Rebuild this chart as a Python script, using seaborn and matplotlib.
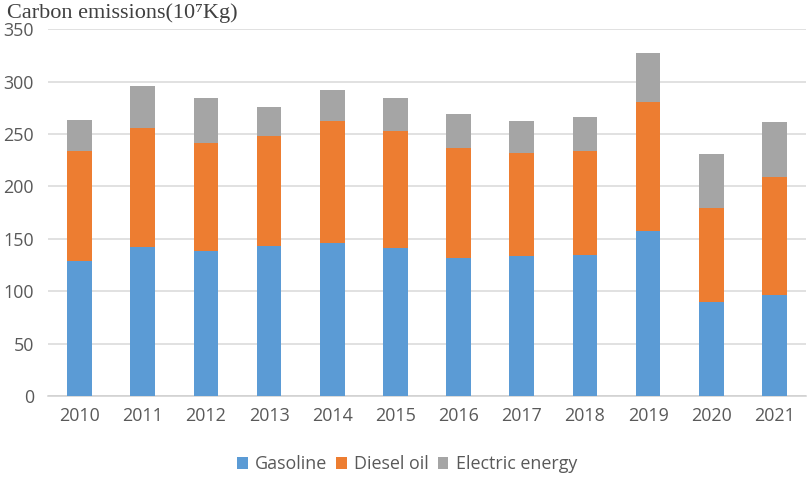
import numpy as np
import pandas as pd
import matplotlib
matplotlib.use("Agg")
import matplotlib.pyplot as plt
import seaborn as sns
from matplotlib.patches import Patch

# values (10^7 kg)
years = ["2010", "2011", "2012", "2013", "2014", "2015",
         "2016", "2017", "2018", "2019", "2020", "2021"]
gasoline = [129.2, 141.9, 138.7, 143.2, 146.4, 141.0,
            131.4, 133.6, 134.3, 157.2, 89.4, 96.7]
diesel_oil = [104.3, 114.2, 103.1, 105.3, 116.1, 111.9,
              105.6, 98.0, 99.2, 123.7, 90.4, 112.0]
electric_energy = [29.9, 39.8, 43.0, 27.7, 29.3, 31.9,
                   31.8, 30.9, 33.1, 46.2, 51.5, 52.5]

series_names = ["Gasoline", "Diesel oil", "Electric energy"]
colors = ["#5B9BD5", "#ED7D31", "#A5A5A5"]

sns.set_theme(style="white")
plt.rcParams["font.family"] = ["Open Sans", "DejaVu Sans"]

df = pd.DataFrame({
    "year": years,
    "Gasoline": gasoline,
    "Diesel oil": diesel_oil,
    "Electric energy": electric_energy,
})
# cumulative tops so the stacked bars can be drawn back to front
cum = df[series_names].cumsum(axis=1)
cum["year"] = df["year"]

fig = plt.figure(figsize=(8.09, 4.86), dpi=100)
ax = fig.add_axes([0.0593, 0.1852, 0.937, 0.7545])

for name, col in reversed(list(zip(series_names, colors))):
    sns.barplot(data=cum, x="year", y=name, color=col, width=0.39,
                saturation=1, ax=ax, zorder=3, linewidth=0)

ax.set_ylim(0, 350)
ax.set_yticks(range(0, 351, 50))
ax.set_xlim(-0.5, len(years) - 0.5)
ax.set_xlabel("")
ax.set_ylabel("")
ax.yaxis.grid(True, color="#D9D9D9", linewidth=1.1, zorder=0)
ax.xaxis.grid(False)
for side in ["top", "right", "left"]:
    ax.spines[side].set_visible(False)
ax.spines["bottom"].set_color("#D0D0D0")
ax.spines["bottom"].set_linewidth(1.1)
ax.tick_params(axis="both", length=0, labelsize=12.9, colors="#595959")
ax.tick_params(axis="y", pad=10)
ax.tick_params(axis="x", pad=8)

fig.text(0.009, 0.973, "Carbon emissions(10\u2077Kg)",
         family=["Liberation Serif", "DejaVu Serif"],
         fontsize=16, color="#404040", ha="left", va="center")

handles = [Patch(facecolor=c, edgecolor="none") for c in colors]
fig.legend(handles, series_names, loc="center", bbox_to_anchor=(0.503, 0.045),
           ncol=3, frameon=False, fontsize=12.9, labelcolor="#595959",
           handlelength=0.6, handleheight=0.6, handletextpad=0.4,
           columnspacing=0.5)

fig.savefig("out.png", dpi=100)
